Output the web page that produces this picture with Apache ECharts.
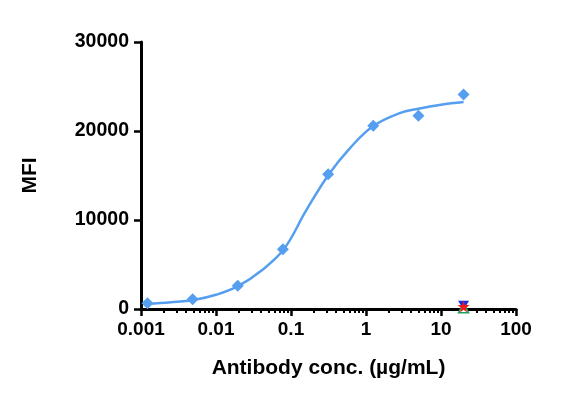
<!DOCTYPE html>
<html>
<head>
<meta charset="utf-8">
<script src="https://cdn.jsdelivr.net/npm/echarts@6/dist/echarts.min.js"></script>
<style>
  html, body { margin: 0; padding: 0; background: #fff; }
  #chart { width: 583px; height: 402px; }
</style>
</head>
<body>
<div id="chart"></div>
<script>
// measured points (µg/mL, MFI)
const conc = [0.00122, 0.00488, 0.0195, 0.078, 0.3125, 1.25, 5, 20];
const mfi = [650, 1100, 2600, 6700, 15150, 20600, 21700, 24100];

// fitted curve
const fitX = [0.00122, 0.0025, 0.005, 0.01, 0.02, 0.04, 0.08, 0.16, 0.32, 0.6, 1.25, 2.8, 5, 10, 20];
const fitY = [560, 750, 1010, 1600, 2600, 4300, 6700, 11100, 15150, 18000, 20550, 22000, 22500, 22950, 23250];

// controls at 20 µg/mL
const ctrlX = 20;
const ctrlBlue = 420;
const ctrlRed = 280;
const ctrlGreen = 150;

// axis ticks
const xTicks = [0.001, 0.01, 0.1, 1, 10, 100];
const xTickLabels = ['0.001', '0.01', '0.1', '1', '10', '100'];
const xMinorTicks = [
  0.002, 0.003, 0.004, 0.005, 0.006, 0.007, 0.008, 0.009,
  0.02, 0.03, 0.04, 0.05, 0.06, 0.07, 0.08, 0.09,
  0.2, 0.3, 0.4, 0.5, 0.6, 0.7, 0.8, 0.9,
  2, 3, 4, 5, 6, 7, 8, 9,
  20, 30, 40, 50, 60, 70, 80, 90
];
const yTicks = [0, 10000, 20000, 30000];

const blue = '#559ef0';
const font = 'Liberation Sans, Arial, sans-serif';

const myChart = echarts.init(document.getElementById('chart'));
const options = {
  animation: false,
  grid: { left: 141, right: 67, top: 42, bottom: 93, outerBoundsMode: 'none' },
  xAxis: [{
    type: 'log',
    logBase: 10,
    min: 0.001,
    max: 100,
    position: 'bottom',
    name: 'Antibody conc. (µg/mL)',
    nameLocation: 'middle',
    nameGap: 49,
    nameTextStyle: { color: '#000', fontSize: 21, fontWeight: 'bold', fontFamily: font },
    axisLine: { onZero: false, lineStyle: { color: '#000', width: 3 } },
    axisTick: { length: 7, lineStyle: { color: '#000', width: 2.5 }, customValues: xTicks },
    axisLabel: {
      color: '#000', fontSize: 19, fontWeight: 'bold', fontFamily: font, margin: 11,
      customValues: xTicks,
      formatter: function (v) { return xTickLabels[Math.round(Math.log10(v)) + 3]; }
    },
    splitLine: { show: false },
    minorTick: { show: false }
  }, {
    type: 'log',
    logBase: 10,
    min: 0.001,
    max: 100,
    position: 'bottom',
    axisLine: { show: false, onZero: false },
    axisTick: { length: 4, lineStyle: { color: '#000', width: 2 }, customValues: xMinorTicks },
    axisLabel: { show: false },
    splitLine: { show: false }
  }],
  yAxis: {
    type: 'value',
    min: 0,
    max: 30000,
    interval: 10000,
    name: 'MFI',
    nameLocation: 'middle',
    nameGap: 100,
    nameRotate: 90,
    nameTextStyle: { color: '#000', fontSize: 21, fontWeight: 'bold', fontFamily: font },
    axisLine: { show: true, lineStyle: { color: '#000', width: 3 } },
    axisTick: { show: true, length: 7, lineStyle: { color: '#000', width: 2.5 }, customValues: yTicks },
    axisLabel: {
      color: '#000', fontSize: 19.5, fontWeight: 'bold', fontFamily: font, margin: 12,
      customValues: yTicks,
      formatter: function (v) { return String(v); }
    },
    splitLine: { show: false }
  },
  series: [{
    name: 'fit',
    type: 'line',
    smooth: 0.4,
    showSymbol: false,
    data: fitX.map((x, i) => [x, fitY[i]]),
    lineStyle: { color: blue, width: 2.5 },
    z: 2
  }, {
    name: 'MFI',
    type: 'scatter',
    symbol: 'diamond',
    symbolSize: 12,
    data: conc.map((x, i) => [x, mfi[i]]),
    itemStyle: { color: blue, opacity: 1 },
    z: 3
  }, {
    name: 'ctrl green',
    type: 'scatter',
    symbol: 'triangle',
    symbolSize: 10,
    data: [[ctrlX, ctrlGreen]],
    itemStyle: { color: '#fff', borderColor: '#20a060', borderWidth: 1.5, opacity: 1 },
    z: 4
  }, {
    name: 'ctrl blue',
    type: 'scatter',
    symbol: 'path://M0,0 L10,0 L5,9 Z',
    symbolSize: [11, 9],
    data: [[ctrlX, ctrlBlue]],
    itemStyle: { color: '#1a2fe0', opacity: 1 },
    z: 5
  }, {
    name: 'ctrl red',
    type: 'scatter',
    symbol: 'path://M50,0 L61,35 L98,35 L68,57 L79,91 L50,70 L21,91 L32,57 L2,35 L39,35 Z',
    symbolSize: 12,
    data: [[ctrlX, ctrlRed]],
    itemStyle: { color: '#f01818', opacity: 1 },
    z: 6
  }]
};
myChart.setOption(options);
window.onresize = function () {
  myChart.resize();
};
</script>
</body>
</html>
